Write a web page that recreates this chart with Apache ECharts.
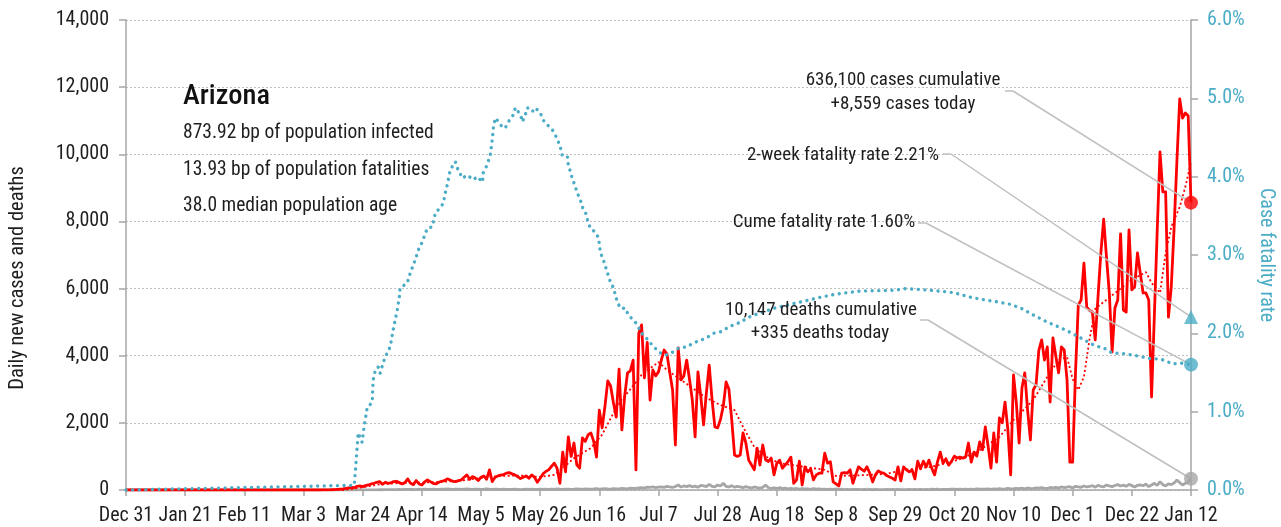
<!DOCTYPE html>
<html>
<head>
<meta charset="utf-8">
<script src="https://cdn.jsdelivr.net/npm/echarts@6/dist/echarts.min.js"></script>
<style>
html,body{margin:0;padding:0;background:#fff;}
#c{width:1281px;height:527px;}
</style>
</head>
<body>
<div id="c"></div>
<script>
// ---------- DATA ----------
// x axis = days since Dec 31, 2019 (0..378 = Jan 12, 2021)
const tickLabels = ['Dec 31','Jan 21','Feb 11','Mar 3','Mar 24','Apr 14','May 5','May 26','Jun 16','Jul 7','Jul 28','Aug 18','Sep 8','Sep 29','Oct 20','Nov 10','Dec 1','Dec 22','Jan 12'];

// daily new cases, day 0..378
const dailyCases = [
0,0,0,0,0,0,0,0,0,0,0,0,0,0,0,0,0,0,0,0,
0,0,0,0,0,0,0,0,0,0,0,0,0,0,0,0,0,0,0,0,
0,0,0,0,0,0,0,0,0,0,0,0,0,0,0,0,0,0,0,0,
0,0,0,0,0,0,1,0,2,0,3,3,5,8,12,18,25,30,45,65,80,
70,110,120,100,130,150,180,200,230,250,170,230,200,210,250,260,220,180,220,
330,200,160,280,180,150,240,300,250,200,180,230,260,280,330,300,260,250,280,300,
380,450,320,400,360,280,380,420,320,600,250,380,420,440,460,500,520,480,450,400,
340,380,420,350,450,380,230,350,480,550,600,700,800,650,200,1130,540,1580,1000,1400,
750,650,1550,1450,1640,1700,1450,980,2380,1850,2500,3250,3100,2600,2170,3600,1790,2800,3490,3550,
3870,600,4670,4920,3340,4400,2680,3575,3400,3520,3870,4170,4050,3500,2980,1340,4230,3280,3400,3870,
3300,2680,1580,3520,2800,1940,2900,3720,2700,1880,1850,2100,2500,3220,3000,2080,1040,1000,1040,1700,
1400,890,750,600,1250,745,1340,900,850,950,450,800,890,650,750,850,980,200,300,860,
150,690,540,630,300,450,500,500,1100,800,840,240,180,120,500,520,500,600,200,450,
690,620,560,690,500,240,450,570,520,500,430,390,350,300,690,270,690,600,540,600,
330,860,630,860,690,890,650,450,830,1130,800,930,740,850,1010,950,980,950,980,
1400,830,1130,1010,1430,1200,1880,1300,650,1700,830,2150,2000,2620,1800,450,3430,2600,1400,3040,
3490,2380,1490,2980,3130,4170,4470,3870,4260,2620,4530,4000,3490,4260,4170,3280,
830,830,3490,5510,5660,6760,5450,5350,5300,4470,5750,7060,8070,6940,5870,4110,5420,5660,7630,5360,
5300,7750,5960,6050,7060,6460,5870,5870,5660,2770,5200,7700,10070,8880,8880,5150,6050,7800,9800,11650,
11080,11230,11150,8559
];

// 7-day average of cases, read as [day, value]
const avg7Points = [
[0,0],[77,0],[80,30],[84,80],[88,140],[91,180],[98,210],[105,220],[112,240],[119,280],[126,360],
[133,420],[140,430],[147,390],[152,450],[155,650],[159,950],[161,1050],[165,1250],[169,1650],
[173,2290],[176,2700],[179,3000],[183,3430],[189,3810],[192,3575],[197,3280],[201,3040],[206,2740],
[211,2530],[216,2380],[219,1880],[223,1280],[228,950],[232,800],[240,700],[248,600],[252,420],
[258,430],[264,450],[270,480],[276,600],[286,690],[295,890],[302,1130],[310,1580],[315,2080],
[322,2680],[327,3370],[331,3870],[334,3960],[336,3300],[338,2980],[340,3370],[342,4500],[344,5400],
[350,5800],[357,6260],[362,6490],[364,6170],[367,5870],[369,7060],[371,7840],[374,8430],[376,9030],[378,9770]
];

// daily deaths, day 0..378
const dailyDeaths = [
0,0,0,0,0,0,0,0,0,0,0,0,0,0,0,0,0,0,0,0,
0,0,0,0,0,0,0,0,0,0,0,0,0,0,0,0,0,0,0,0,
0,0,0,0,0,0,0,0,0,0,0,0,0,0,0,0,0,0,0,0,
0,0,0,0,0,0,0,0,0,0,0,0,0,0,0,0,0,0,0,0,
1,0,2,1,2,3,4,4,5,6, 8,7,10,12,9,14,11,15,13,17,
18,15,20,14,22,19,25,17,21,24, 20,18,25,22,30,27,19,24,28,21,
26,30,22,18,25,28,20,24,31,23, 20,26,22,19,24,17,21,18,25,20,
14,19,23,17,25,20,15,22,18,24, 20,26,17,30,22,19,25,28,20,24,
30,26,22,35,28,24,31,40,27,33, 38,30,25,44,36,32,48,42,35,55,
50,45,60,70,58,85,75,90,68,86, 95,80,110,92,75,105,150,88,120,100,
130,95,115,80,140,125,100,170,110,95, 150,120,200,105,90,130,85,110,95,70,
100,75,60,90,70,55,80,150,65,50, 60,45,70,40,55,35,50,30,45,25,
40,30,35,20,45,25,30,15,28,20, 25,18,30,15,22,12,20,10,18,15,
20,12,18,10,15,8,16,12,14,10, 18,12,15,8,20,10,14,12,16,9,
15,10,18,12,20,14,22,16,25,12, 20,15,18,25,22,16,28,20,24,18,
25,20,30,22,28,24,35,18,30,25, 40,28,35,45,30,38,50,42,55,35,
60,48,40,65,55,70,50,45,75,60, 80,55,90,70,85,100,60,110,95,80,
120,90,105,130,85,140,110,95,150,120, 100,135,160,120,145,110,170,130,90,140,
155,125,180,100,150,200,135,250,160,120, 180,160,210,300,220,150,200,240,335
];

// cumulative case fatality rate (%), read as [day, value]
const cfrPoints = [
[0,0],[81,0.06],[81.7,0.38],[82.4,0.73],[83.8,0.61],[84.5,0.80],[85.6,1.05],[87.4,1.12],[87.7,1.40],[88.5,1.53],
[89.5,1.57],[90.2,1.49],[91.3,1.63],[92.7,1.75],[93.8,1.83],[94.8,2.04],[96.3,2.30],[97,2.46],[97.3,2.58],[99.8,2.64],
[100.9,2.77],[102.7,2.94],[103.7,3.06],[105.2,3.17],[106.9,3.34],[108.7,3.36],[109.8,3.54],[111.5,3.60],[112.6,3.66],
[113.3,3.79],[114,3.89],[115.1,4.09],[116.9,4.19],[117.6,4.11],[119.4,3.98],[121.1,4.02],[123.3,3.96],[124.7,4.00],
[126.5,3.93],[126.8,4.05],[128.2,4.15],[129.3,4.28],[130,4.47],[130.4,4.63],[131.1,4.75],[131.8,4.72],[133.6,4.63],
[134.6,4.62],[135.7,4.70],[137.5,4.79],[138.2,4.88],[140,4.79],[140.7,4.70],[141.7,4.79],[142.5,4.88],[144.2,4.83],
[145.3,4.88],[147.1,4.81],[148.1,4.72],[149.6,4.66],[151.3,4.60],[152.4,4.53],[153.5,4.44],[154.2,4.37],[154.9,4.26],
[156.7,4.25],[157,4.15],[158.4,3.98],[159.5,3.87],[160.2,3.79],[161.3,3.70],[162,3.61],[163.1,3.54],[163.8,3.45],
[164.8,3.34],[166.6,3.29],[167.7,3.22],[168.4,3.03],[169.4,2.94],[170.9,2.77],[171.9,2.66],[173,2.58],[174.4,2.40],
[175.5,2.32],[177.3,2.32],[178.3,2.23],[180.1,2.17],[181.5,2.11],[182.6,2.02],[183.7,1.98],[185.4,1.91],[187.2,1.83],
[189.7,1.75],[191.5,1.72],[194,1.76],[196.1,1.81],[199.3,1.83],[201.4,1.88],[203.9,1.91],[206.4,1.95],[208.5,2.00],
[211,2.02],[213.5,2.07],[215.6,2.11],[218.1,2.14],[220.6,2.20],[222.7,2.23],[230,2.32],[239.4,2.40],[246.5,2.46],
[251.9,2.50],[260.7,2.54],[272.8,2.55],[276.7,2.57],[285.6,2.55],[293.8,2.52],[299.8,2.46],[304.4,2.43],[309.4,2.40],
[314,2.37],[318.3,2.31],[322.2,2.23],[327.2,2.14],[331.8,2.07],[335.3,2.01],[338.9,1.94],[343.5,1.85],[347.8,1.80],
[349.9,1.75],[354.2,1.74],[359.2,1.71],[363.1,1.68],[367.3,1.67],[371.6,1.61],[374.4,1.62],[378,1.60]
];

const stateName = 'Arizona';
const infoLines = ['873.92 bp of population infected', '13.93 bp of population fatalities', '38.0 median population age'];
const casesCumulative = '636,100';
const casesToday = 8559;
const deathsCumulative = '10,147';
const deathsToday = 335;
const twoWeekRate = 2.21;
const cumeRate = 1.60;
const lastDay = 378;
const leftAxisTitle = 'Daily new cases and deaths';
const rightAxisTitle = 'Case fatality rate';

// ---------- CHART ----------
const FONT = '"Roboto Condensed", "Liberation Sans", sans-serif';
const RED = '#FF0000', BLUE = '#4BACC6', GRAY = '#A6A6A6', LEAD = '#BFBFBF', TXT = '#1E1E1E';
const fmt = n => n.toLocaleString('en-US');

const chart = echarts.init(document.getElementById('c'), null, {renderer: 'canvas'});

function leader(pts, end) {
  const segs = [];
  for (let i = 0; i < pts.length - 1; i++) segs.push([{x: pts[i][0], y: pts[i][1]}, {x: pts[i+1][0], y: pts[i+1][1]}]);
  segs.push([{x: pts[pts.length-1][0], y: pts[pts.length-1][1]}, {coord: end}]);
  return {
    silent: true, symbol: ['none', 'none'], animation: false,
    label: {show: false}, emphasis: {disabled: true},
    lineStyle: {color: LEAD, width: 1.5, type: 'solid'},
    data: segs
  };
}

const option = {
  animation: false,
  textStyle: {fontFamily: FONT},
  grid: {left: 126, right: 90, top: 20, bottom: 37, containLabel: false, outerBoundsMode: 'none'},
  xAxis: {
    type: 'value', min: 0, max: lastDay, interval: 21,
    axisLine: {show: true, lineStyle: {color: GRAY, width: 1.5}},
    axisTick: {show: true, length: 6, lineStyle: {color: GRAY, width: 1.5}},
    axisLabel: {formatter: v => tickLabels[Math.round(v / 21)] || '', color: TXT, fontSize: 20, fontFamily: FONT, margin: 16,
                showMinLabel: true, showMaxLabel: true, hideOverlap: false},
    splitLine: {show: false}
  },
  yAxis: [{
    type: 'value', min: 0, max: 14000, interval: 2000, position: 'left',
    axisLine: {show: true, lineStyle: {color: GRAY, width: 1.5}},
    axisTick: {show: true, length: 7, lineStyle: {color: GRAY, width: 1.5}},
    axisLabel: {formatter: v => fmt(v), color: TXT, fontSize: 20, fontFamily: FONT, margin: 17, showMinLabel: true, showMaxLabel: true},
    splitLine: {show: true, lineStyle: {color: '#C0C0C0', width: 1, type: [2, 2]}}
  }, {
    type: 'value', min: 0, max: 6, interval: 1, position: 'right',
    name: rightAxisTitle, nameLocation: 'middle', nameGap: 62, nameRotate: -90,
    nameTextStyle: {color: BLUE, fontSize: 20, fontFamily: FONT},
    axisLine: {show: true, lineStyle: {color: GRAY, width: 1.5}},
    axisTick: {show: true, length: 7, lineStyle: {color: GRAY, width: 1.5}},
    axisLabel: {formatter: v => v.toFixed(1) + '%', color: BLUE, fontSize: 20, fontFamily: FONT, margin: 16, showMinLabel: true, showMaxLabel: true},
    splitLine: {show: false}
  }],
  series: [
    {
      name: 'Deaths', type: 'line', yAxisIndex: 0, showSymbol: false, symbol: 'none', z: 2,
      data: dailyDeaths.map((v, i) => [i, v]),
      lineStyle: {color: GRAY, width: 2.8}
    },
    {
      name: 'Cases 7d', type: 'line', yAxisIndex: 0, symbol: 'none', z: 3,
      data: avg7Points,
      lineStyle: {color: RED, width: 1.8, type: [2, 2.5]}
    },
    {
      name: 'Cases', type: 'line', yAxisIndex: 0, symbol: 'none', z: 4,
      data: dailyCases.map((v, i) => [i, v]),
      lineStyle: {color: RED, width: 2.8, join: 'round'}
    },
    {
      name: 'CFR', type: 'line', yAxisIndex: 1, symbol: 'none', z: 5,
      data: cfrPoints,
      lineStyle: {color: BLUE, width: 3.4, type: [0.01, 6.6], cap: 'round'}
    },
    {
      name: 'casesEnd', type: 'scatter', yAxisIndex: 0, z: 8, symbol: 'circle', symbolSize: 14,
      itemStyle: {color: RED}, data: [[lastDay, casesToday]],
      markLine: leader([[1005, 91], [1013, 91]], [lastDay, casesToday])
    },
    {
      name: 'deathsEnd', type: 'scatter', yAxisIndex: 0, z: 8, symbol: 'circle', symbolSize: 14,
      itemStyle: {color: GRAY}, data: [[lastDay, deathsToday]],
      markLine: leader([[920, 320], [928, 320]], [lastDay, deathsToday])
    },
    {
      name: 'twoWeek', type: 'scatter', yAxisIndex: 1, z: 8, symbol: 'triangle', symbolSize: 14,
      itemStyle: {color: BLUE}, data: [[lastDay, twoWeekRate]],
      markLine: leader([[943, 154], [951, 154]], [lastDay, twoWeekRate])
    },
    {
      name: 'cumeEnd', type: 'scatter', yAxisIndex: 1, z: 8, symbol: 'circle', symbolSize: 14,
      itemStyle: {color: BLUE}, data: [[lastDay, cumeRate]],
      markLine: leader([[918, 223], [926, 223]], [lastDay, cumeRate])
    }
  ],
  graphic: [
    {type: 'text', x: 18, y: 278, rotation: Math.PI / 2, z: 10, style: {text: leftAxisTitle, font: '20.5px ' + FONT, fill: TXT, align: 'center', verticalAlign: 'middle'}},
    {type: 'text', x: 183, y: 97, z: 10, style: {text: stateName, font: '500 28.5px ' + FONT, fill: '#111', align: 'left', verticalAlign: 'middle'}},
    {type: 'text', x: 183, y: 133, z: 10, style: {text: infoLines[0], font: '19.5px ' + FONT, fill: TXT, align: 'left', verticalAlign: 'middle'}},
    {type: 'text', x: 183, y: 170, z: 10, style: {text: infoLines[1], font: '19.5px ' + FONT, fill: TXT, align: 'left', verticalAlign: 'middle'}},
    {type: 'text', x: 183, y: 206, z: 10, style: {text: infoLines[2], font: '19.5px ' + FONT, fill: TXT, align: 'left', verticalAlign: 'middle'}},
    {type: 'text', x: 903, y: 80, z: 10, style: {text: casesCumulative + ' cases cumulative', font: '19px ' + FONT, fill: TXT, align: 'center', verticalAlign: 'middle'}},
    {type: 'text', x: 903, y: 104, z: 10, style: {text: '+' + fmt(casesToday) + ' cases today', font: '19px ' + FONT, fill: TXT, align: 'center', verticalAlign: 'middle'}},
    {type: 'text', x: 843, y: 155, z: 10, style: {text: '2-week fatality rate ' + twoWeekRate.toFixed(2) + '%', font: '19px ' + FONT, fill: TXT, align: 'center', verticalAlign: 'middle'}},
    {type: 'text', x: 824, y: 222, z: 10, style: {text: 'Cume fatality rate ' + cumeRate.toFixed(2) + '%', font: '19px ' + FONT, fill: TXT, align: 'center', verticalAlign: 'middle'}},
    {type: 'text', x: 821, y: 310, z: 10, style: {text: deathsCumulative + ' deaths cumulative', font: '19px ' + FONT, fill: TXT, align: 'center', verticalAlign: 'middle'}},
    {type: 'text', x: 820, y: 333, z: 10, style: {text: '+' + fmt(deathsToday) + ' deaths today', font: '19px ' + FONT, fill: TXT, align: 'center', verticalAlign: 'middle'}}
  ]
};
chart.setOption(option);
</script>
</body>
</html>
